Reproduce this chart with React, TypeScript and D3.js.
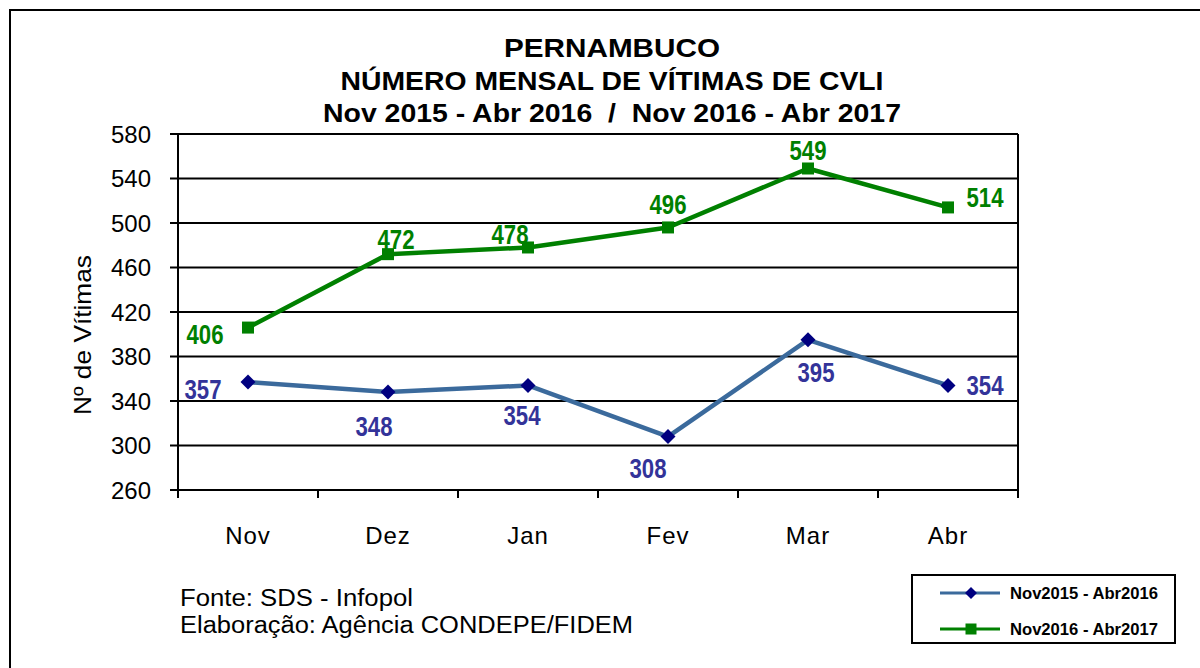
import React from "react";
import * as d3 from "d3";

const months = ["Nov", "Dez", "Jan", "Fev", "Mar", "Abr"];
const serie2016 = [357, 348, 354, 308, 395, 354];
const serie2017 = [406, 472, 478, 496, 549, 514];
const yTicks = [260, 300, 340, 380, 420, 460, 500, 540, 580];
const seriesNames = ["Nov2015 - Abr2016", "Nov2016 - Abr2017"];
const titleLines = [
  "PERNAMBUCO",
  "NÚMERO MENSAL DE VÍTIMAS DE CVLI",
  "Nov 2015 - Abr 2016  /  Nov 2016 - Abr 2017",
];
const footer = ["Fonte: SDS - Infopol", "Elaboração: Agência CONDEPE/FIDEM"];

// label offsets (dx, dy) relative to point
const off2016: [number, number][] = [[-45, 17], [-14, 44], [-6, 40], [-20, 41], [8, 42], [37, 10]];
const off2017: [number, number][] = [[-43, 16], [8, -5], [-18, -3], [0, -13], [0, -8], [37, 0]];

const FONT = "'Liberation Sans', Arial, sans-serif";

export default function App() {
  const left = 178, right = 1018, top = 134, bottom = 490;
  const x = d3.scaleBand<string>().domain(months).range([left, right]);
  const y = d3.scaleLinear().domain([260, 580]).range([bottom, top]);
  const cx = (m: string) => (x(m) as number) + x.bandwidth() / 2;
  const line = d3.line<number>().x((_, i) => cx(months[i])).y((d) => y(d));

  const blueLine = "#3B6A9C";
  const blueMark = "#000080";
  const blueText = "#333399";
  const green = "#008000";

  const diamond = (px: number, py: number, r: number) =>
    `M${px},${py - r}L${px + r},${py}L${px},${py + r}L${px - r},${py}Z`;

  const boundaries = [...months.map((m) => x(m) as number), right];

  return (
    <svg width={1200} height={668} style={{ position: "absolute", left: 0, top: 0, background: "#fff" }}>
      <rect x={0} y={0} width={1200} height={668} fill="#fff" />
      <rect x={10} y={10} width={1200} height={680} fill="none" stroke="#000" strokeWidth={2} />
      {titleLines.map((t, i) => (
        <text key={i} x={612} y={57 + i * 32.5} textAnchor="middle" fontFamily={FONT} fontWeight="bold" fontSize={26} fill="#000" style={{ whiteSpace: "pre" }} textLength={[216, 543, 578][i]} lengthAdjust="spacingAndGlyphs">
          {t}
        </text>
      ))}
      {/* gridlines */}
      {yTicks.map((t) => (
        <g key={t}>
          <line x1={left - 8} x2={right} y1={y(t)} y2={y(t)} stroke="#000" strokeWidth={2} />
          <text x={151} y={y(t) + 8.5} textAnchor="end" fontFamily={FONT} fontSize={24} fill="#000">
            {t}
          </text>
        </g>
      ))}
      <line x1={left} x2={left} y1={top} y2={bottom + 8} stroke="#000" strokeWidth={2} />
      <line x1={right} x2={right} y1={top} y2={bottom + 8} stroke="#000" strokeWidth={2} />
      {boundaries.map((b, i) => (
        <line key={i} x1={b} x2={b} y1={bottom} y2={bottom + 8} stroke="#000" strokeWidth={2} />
      ))}
      {months.map((m) => (
        <text key={m} x={cx(m)} y={544} textAnchor="middle" fontFamily={FONT} fontSize={24} letterSpacing={1} fill="#000">
          {m}
        </text>
      ))}
      <text transform={`translate(91,${335}) rotate(-90)`} textAnchor="middle" fontFamily={FONT} fontSize={24} fill="#000" textLength={160} lengthAdjust="spacingAndGlyphs">
        Nº de Vítimas
      </text>

      {/* series 2016 */}
      <path d={line(serie2016) as string} fill="none" stroke={blueLine} strokeWidth={4.5} strokeLinejoin="round" />
      {serie2016.map((v, i) => (
        <path key={i} d={diamond(cx(months[i]), y(v), 7.5)} fill={blueMark} />
      ))}
      {serie2016.map((v, i) => (
        <text key={i} x={cx(months[i]) + off2016[i][0]} y={y(v) + off2016[i][1]} textAnchor="middle" fontFamily={FONT} fontWeight="bold" fontSize={27} fill={blueText} textLength={37} lengthAdjust="spacingAndGlyphs">
          {v}
        </text>
      ))}

      {/* series 2017 */}
      <path d={line(serie2017) as string} fill="none" stroke={green} strokeWidth={4.5} strokeLinejoin="round" />
      {serie2017.map((v, i) => (
        <rect key={i} x={cx(months[i]) - 6} y={y(v) - 6} width={12} height={12} fill={green} />
      ))}
      {serie2017.map((v, i) => (
        <text key={i} x={cx(months[i]) + off2017[i][0]} y={y(v) + off2017[i][1]} textAnchor="middle" fontFamily={FONT} fontWeight="bold" fontSize={27} fill={green} textLength={37} lengthAdjust="spacingAndGlyphs">
          {v}
        </text>
      ))}

      {/* footer */}
      {footer.map((t, i) => (
        <text key={i} x={180} y={606 + i * 27} fontFamily={FONT} fontSize={23} fill="#000" textLength={[233, 453][i]} lengthAdjust="spacingAndGlyphs">
          {t}
        </text>
      ))}

      {/* legend */}
      <rect x={912} y={575} width={263} height={68} fill="#fff" stroke="#000" strokeWidth={2} />
      <line x1={940} x2={1000} y1={593} y2={593} stroke={blueLine} strokeWidth={3} />
      <path d={diamond(971, 593, 6)} fill={blueMark} />
      <text x={1010} y={599} fontFamily={FONT} fontWeight="bold" fontSize={16} fill="#000" textLength={148} lengthAdjust="spacingAndGlyphs">
        {seriesNames[0]}
      </text>
      <line x1={940} x2={1000} y1={629} y2={629} stroke={green} strokeWidth={3} />
      <rect x={965.5} y={623.5} width={11} height={11} fill={green} />
      <text x={1010} y={635} fontFamily={FONT} fontWeight="bold" fontSize={16} fill="#000" textLength={148} lengthAdjust="spacingAndGlyphs">
        {seriesNames[1]}
      </text>
    </svg>
  );
}
